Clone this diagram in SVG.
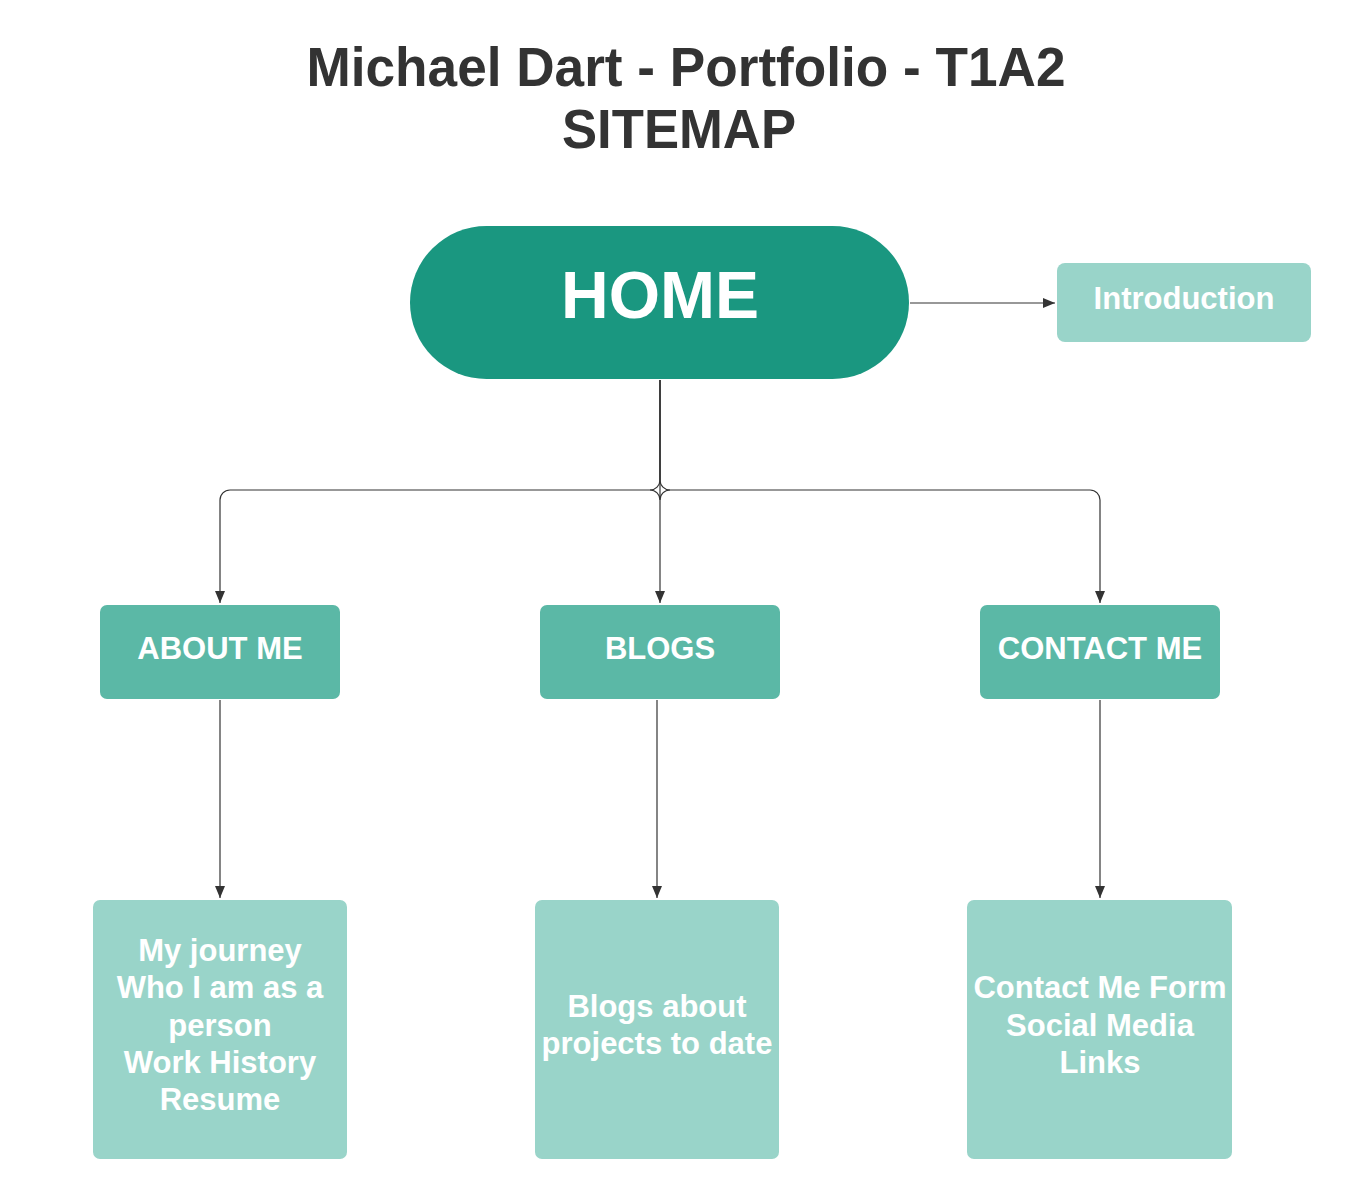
<svg xmlns="http://www.w3.org/2000/svg" width="1349" height="1178" viewBox="0 0 1349 1178">
  <defs>
    <marker id="arr" viewBox="0 0 12 10" refX="12" refY="5" markerWidth="12" markerHeight="10" markerUnits="userSpaceOnUse" orient="auto">
      <path d="M0,0 L12,5 L0,10 z" fill="#333333"/>
    </marker>
    <style>
      .title { font-family: "Liberation Sans", Arial, sans-serif; font-weight: bold; fill: #333333; text-anchor: middle; }
      .lbl { font-family: "Liberation Sans", Arial, sans-serif; font-weight: bold; fill: #ffffff; text-anchor: middle; }
      .conn { fill: none; stroke: #333333; stroke-width: 1.2; }
      .mid { fill: #5bb8a6; }
      .light { fill: #99d4c9; }
    </style>
  </defs>
  <rect width="1349" height="1178" fill="#ffffff"/>

  <g id="title">
    <text class="title" x="686" y="86" font-size="55" textLength="759" lengthAdjust="spacingAndGlyphs">Michael Dart - Portfolio - T1A2</text>
    <text class="title" x="679" y="148" font-size="55" textLength="234" lengthAdjust="spacingAndGlyphs">SITEMAP</text>
  </g>

  <g id="connectors">
    <path class="conn" d="M910,303 L1055,303" marker-end="url(#arr)"/>
    <path class="conn" d="M660,380 L660,480 A10,10 0 0 1 650,490 L230,490 A10,10 0 0 0 220,500 L220,603" marker-end="url(#arr)"/>
    <path class="conn" d="M660,380 L660,480 A10,10 0 0 0 670,490 L1090,490 A10,10 0 0 1 1100,500 L1100,603" marker-end="url(#arr)"/>
    <path class="conn" d="M660,380 L660,603" marker-end="url(#arr)"/>
    <path class="conn" d="M650,490 A10,10 0 0 1 660,500 A10,10 0 0 1 670,490"/>
    <path class="conn" d="M220,700 L220,898" marker-end="url(#arr)"/>
    <path class="conn" d="M657,700 L657,898" marker-end="url(#arr)"/>
    <path class="conn" d="M1100,700 L1100,898" marker-end="url(#arr)"/>
  </g>

  <g id="home">
    <rect x="410" y="226" width="499" height="153" rx="76.5" ry="76.5" fill="#1a9780"/>
    <text class="lbl" x="660" y="318" font-size="66">HOME</text>
  </g>

  <g id="introduction">
    <rect class="light" x="1057" y="263" width="254" height="79" rx="8"/>
    <text class="lbl" x="1184" y="309" font-size="31">Introduction</text>
  </g>

  <g id="about-me">
    <rect class="mid" x="100" y="605" width="240" height="94" rx="7"/>
    <text class="lbl" x="220" y="659" font-size="31">ABOUT ME</text>
  </g>

  <g id="blogs">
    <rect class="mid" x="540" y="605" width="240" height="94" rx="7"/>
    <text class="lbl" x="660" y="659" font-size="31">BLOGS</text>
  </g>

  <g id="contact-me">
    <rect class="mid" x="980" y="605" width="240" height="94" rx="7"/>
    <text class="lbl" x="1100" y="659" font-size="31">CONTACT ME</text>
  </g>

  <g id="about-details">
    <rect class="light" x="93" y="900" width="254" height="259" rx="7"/>
    <text class="lbl" font-size="31" x="220" y="961">My journey</text>
    <text class="lbl" font-size="31" x="220" y="998">Who I am as a</text>
    <text class="lbl" font-size="31" x="220" y="1036">person</text>
    <text class="lbl" font-size="31" x="220" y="1073">Work History</text>
    <text class="lbl" font-size="31" x="220" y="1110">Resume</text>
  </g>

  <g id="blogs-details">
    <rect class="light" x="535" y="900" width="244" height="259" rx="7"/>
    <text class="lbl" font-size="31" x="657" y="1017">Blogs about</text>
    <text class="lbl" font-size="31" x="657" y="1054">projects to date</text>
  </g>

  <g id="contact-details">
    <rect class="light" x="967" y="900" width="265" height="259" rx="7"/>
    <text class="lbl" font-size="31" x="1100" y="998">Contact Me Form</text>
    <text class="lbl" font-size="31" x="1100" y="1036">Social Media</text>
    <text class="lbl" font-size="31" x="1100" y="1073">Links</text>
  </g>
</svg>
